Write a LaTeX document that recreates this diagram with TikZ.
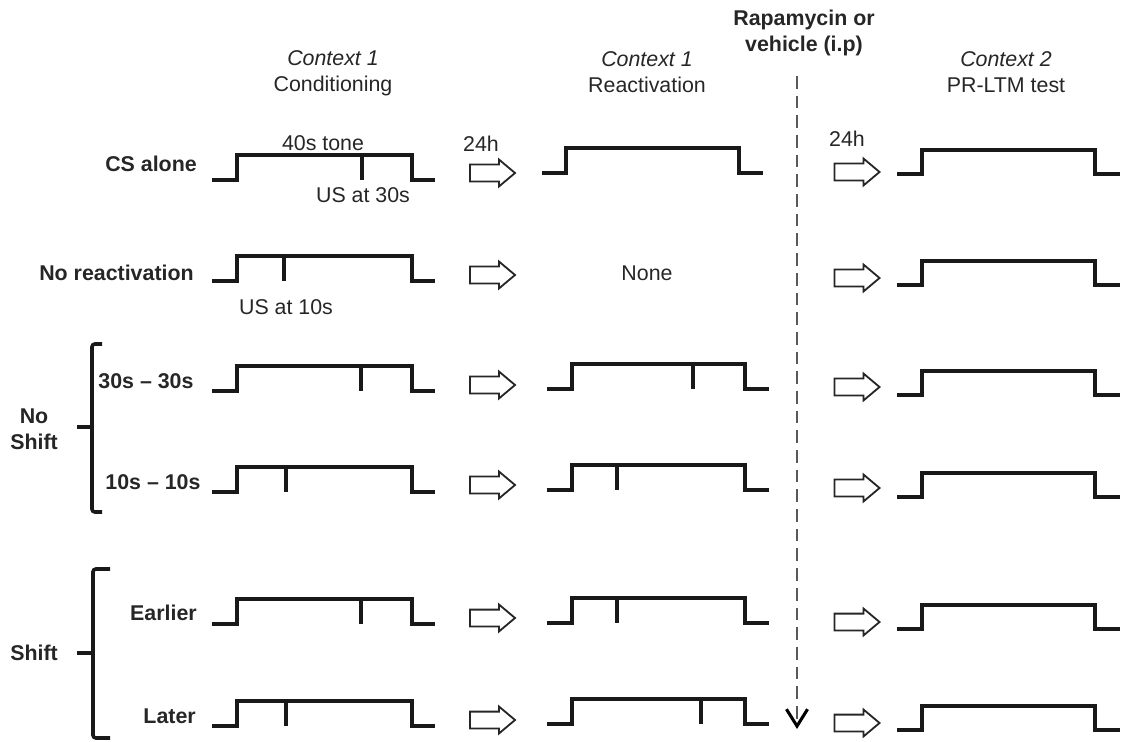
\documentclass[tikz,border=0pt]{standalone}
\usepackage{fontspec}
\setmainfont{Liberation Sans}
\usetikzlibrary{shapes.arrows,arrows.meta}

\begin{document}
\begin{tikzpicture}[
    x=0.025cm, y=-0.025cm,
    txt/.style={font=\fontsize{15.2}{18.5}\selectfont, text=black!85, inner sep=0pt, align=center},
    lbl/.style={txt, font=\fontsize{15.2}{18.5}\selectfont\bfseries},
    wave/.style={line width=2.2pt, black!90},
    brace/.style={line width=2.5pt, black!90, rounded corners=2pt},
    blockarrow/.style={single arrow, draw=black!85, line width=1.3pt, inner xsep=0pt, inner ysep=0.1875cm,
        minimum height=1.125cm, single arrow head extend=0.125cm, single arrow tip angle=80},
    drugline/.style={line width=1.4pt, black!65, dash pattern=on 9pt off 5pt,
        -{Straight Barb[length=12pt,width=15pt,black,line width=2.2pt]}}
]
\useasboundingbox (0,0) rectangle (1121,742);

% Headers
\node[txt] (hcond) at (333,73) {\textit{Context 1}\\Conditioning};
\node[txt] (hreact) at (647,72) {\textit{Context 1}\\Reactivation};
\node[lbl] (hdrug) at (804,33) {Rapamycin or\\vehicle (i.p)};
\node[txt] (htest) at (1006,72) {\textit{Context 2}\\PR-LTM test};

% Row labels
\node[lbl, anchor=east] (rcs) at (197,164) {CS alone};
\node[lbl, anchor=east] (rnoreact) at (194,273) {No reactivation};
\node[lbl] (r3030) at (146,381) {30s -- 30s};
\node[lbl] (r1010) at (153,482) {10s -- 10s};
\node[lbl, anchor=east] (rearly) at (197,613) {Earlier};
\node[lbl, anchor=east] (rlate) at (196,716) {Later};
\node[lbl] (gnoshift) at (34,429) {No\\Shift};
\node[lbl] (gshift) at (34,653) {Shift};

% Other texts
\node[txt] (tone) at (323,143) {40s tone};
\node[txt] (us30) at (363,195) {US at 30s};
\node[txt] (us10) at (286,307) {US at 10s};
\node[txt] (day1) at (481,144) {24h};
\node[txt] (day2) at (847,139) {24h};
\node[txt] (none) at (647,273) {None};

% Brackets
\draw[brace] (102,344) -- (92,344) -- (92,512) -- (102,512);
\draw[brace] (92,427) -- (77,427);
\draw[brace] (110,569) -- (93,569) -- (93,738) -- (110,738);
\draw[brace] (93,653) -- (77,653);

% Tone traces: conditioning
\foreach \yb/\tx in {180/362, 281/284, 391/361, 492/286, 624/361, 726/286}
  \draw[wave] (212,\yb) -- ++(25,0) -- ++(0,-25) -- ++(175,0) -- ++(0,25) -- ++(23,0)
              (\tx,\yb-25) -- (\tx,\yb);

% Tone traces: reactivation
\draw[wave] (542,173) -- ++(24,0) -- ++(0,-25) -- ++(173,0) -- ++(0,25) -- ++(24,0);
\foreach \yb/\tx in {389/693, 490/617, 623/617, 724/701}
  \draw[wave] (547,\yb) -- ++(25,0) -- ++(0,-25) -- ++(173,0) -- ++(0,25) -- ++(24,0)
              (\tx,\yb-25) -- (\tx,\yb);

% Tone traces: test
\foreach \yb in {174, 285, 395, 497, 629, 730}
  \draw[wave] (897,\yb) -- ++(25,0) -- ++(0,-24) -- ++(173,0) -- ++(0,24) -- ++(25,0);

% Arrows
\foreach \y [count=\i] in {173, 275, 385, 485, 618, 720}
  \node[blockarrow] (ga\i) at (487.5,\y) {};
\foreach \y [count=\i] in {172, 278, 387, 488, 622, 723}
  \node[blockarrow] (gb\i) at (852,\y) {};

\coordinate (drugtop) at (797,76);
\coordinate (drugend) at (797,729);
\draw[drugline] (drugtop) -- (drugend);
\end{tikzpicture}
\end{document}
